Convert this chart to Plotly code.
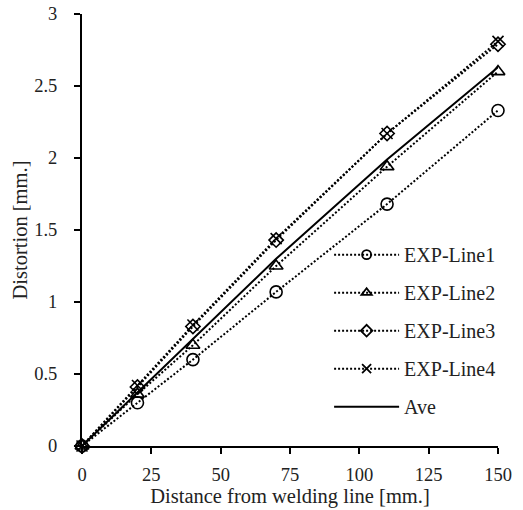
import plotly.graph_objects as go

distance = [0, 20, 40, 70, 110, 150]
exp_line1 = [0, 0.30, 0.60, 1.07, 1.68, 2.33]
exp_line2 = [0, 0.36, 0.70, 1.25, 1.94, 2.60]
exp_line3 = [0, 0.41, 0.83, 1.43, 2.17, 2.79]
exp_line4 = [0, 0.42, 0.84, 1.44, 2.17, 2.81]
ave_line = [0, 0.37, 0.74, 1.30, 1.99, 2.63]

x_ticks = [0, 25, 50, 75, 100, 125, 150]
y_ticks = [0, 0.5, 1, 1.5, 2, 2.5, 3]
y_tick_text = ["0", "0.5", "1", "1.5", "2", "2.5", "3"]

FONT = "Times New Roman, Liberation Serif, Times, serif"
DOT = "2px,2px"

series = [
    ("EXP-Line1", exp_line1, "circle-open", 12),
    ("EXP-Line2", exp_line2, "triangle-up-open", 12),
    ("EXP-Line3", exp_line3, "diamond-open", 11),
    ("EXP-Line4", exp_line4, "x-thin-open", 11),
]

fig = go.Figure()
for i, (name, ys, sym, sz) in enumerate(series):
    fig.add_trace(go.Scatter(
        x=distance, y=ys, mode="lines+markers", name=name,
        line=dict(color="black", width=2, dash=DOT),
        marker=dict(symbol=sym, size=sz, color="black", line=dict(color="black", width=1.6)),
        cliponaxis=False, showlegend=False,
    ))
fig.add_trace(go.Scatter(
    x=distance, y=ave_line, mode="lines", name="Ave",
    line=dict(color="black", width=2), cliponaxis=False, showlegend=False,
))

# legend entries
for i, (name, ys, sym, sz) in enumerate(series):
    fig.add_trace(go.Scatter(
        x=[None], y=[None], mode="lines+markers", name=name, legendgroup=str(i),
        line=dict(color="black", width=2, dash=DOT),
        marker=dict(symbol=sym, size=9, color="black", line=dict(color="black", width=1.8)),
    ))
fig.add_trace(go.Scatter(
    x=[None], y=[None], mode="lines", name="Ave", legendgroup="4",
    line=dict(color="black", width=2),
))

fig.update_layout(
    width=523, height=510,
    margin=dict(l=82, r=25, t=14, b=64),
    paper_bgcolor="white", plot_bgcolor="white",
    font=dict(family=FONT, size=18.5, color="#222"),
    showlegend=True,
    legend=dict(
        x=0.594, xanchor="left", y=0.488, yanchor="top",
        bgcolor="rgba(0,0,0,0)", itemwidth=65, tracegroupgap=9,
        font=dict(family=FONT, size=20, color="#222"),
        itemsizing="trace",
    ),
    xaxis=dict(
        range=[0, 150], tickvals=x_ticks, showline=True, linecolor="black", linewidth=2,
        ticks="outside", ticklen=6, tickwidth=1.5, tickcolor="black",
        showgrid=False, zeroline=False, ticklabelstandoff=5, automargin=False,
        title=dict(text="Distance from welding line [mm.]", font=dict(size=20.5), standoff=4),
    ),
    yaxis=dict(
        range=[0, 3], tickvals=y_ticks, ticktext=y_tick_text, showline=True, linecolor="black", linewidth=2,
        ticks="outside", ticklen=6, tickwidth=1.5, tickcolor="black",
        showgrid=False, zeroline=False, ticklabelstandoff=13, automargin=False,
        title=dict(text="Distortion [mm.]", font=dict(size=20.5), standoff=1),
    ),
)

fig.write_html("out.html", config={"displayModeBar": False},
               post_script="document.body.style.margin='0';")
